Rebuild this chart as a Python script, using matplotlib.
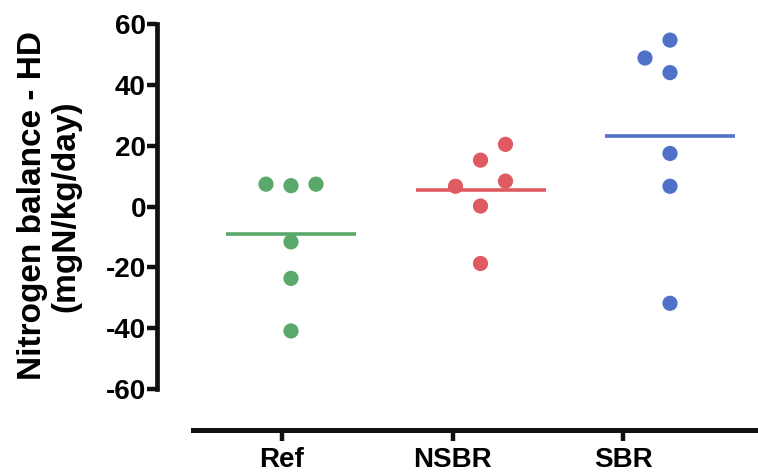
import matplotlib
matplotlib.use("Agg")
import matplotlib.pyplot as plt
import numpy as np

plt.rcParams['font.family'] = ['Liberation Sans', 'DejaVu Sans']
plt.rcParams['font.weight'] = 'bold'

# Nitrogen balance per group (mgN/kg/day)
groups = ["Ref", "NSBR", "SBR"]
ref_vals = [7.4, 6.9, 7.4, -11.6, -23.6, -40.9]
nsbr_vals = [20.5, 15.3, 8.4, 6.7, 0.2, -18.7]
sbr_vals = [54.8, 48.9, 44.1, 17.5, 6.7, -31.8]
yticks = [-60, -40, -20, 0, 20, 40, 60]

# horizontal slot of each dot within its column (scatter layout)
ref_slots = [-1, 0, 1, 0, 0, 0]
nsbr_slots = [1, 0, 1, -1, 0, 0]
sbr_slots = [0, -1, 0, 0, 0, 0]

colors = ["#5aa96a", "#e05a62", "#4f72c8"]

W, H = 758, 474
fig = plt.figure(figsize=(W / 100, H / 100), dpi=100)

# data axes: x spans 157..758 px, y spans 24..389 px
ax = fig.add_axes([157 / W, (H - 389) / H, (W - 157) / W, (389 - 24.3) / H])
ax.set_ylim(-60, 60)
col_px = 189.5
ax.set_xlim(-(291 - 157) / col_px, (W - 291) / col_px)

slot_step = 25 / col_px
half_len = 65 / col_px
for i, (vals, slots, c) in enumerate(zip([ref_vals, nsbr_vals, sbr_vals],
                                         [ref_slots, nsbr_slots, sbr_slots],
                                         colors)):
    xs = i + np.array(slots) * slot_step
    ax.scatter(xs, vals, s=120, color=c, edgecolors='none', zorder=3)
    m = np.mean(vals)
    ax.plot([i - half_len, i + half_len], [m, m], color=c, lw=2.6,
            solid_capstyle='butt', zorder=2)

for s in ["top", "right", "bottom"]:
    ax.spines[s].set_visible(False)
ax.spines["left"].set_linewidth(3.4)
ax.spines["left"].set_color("#111111")
ax.set_xticks([])
ax.set_yticks(yticks)
ax.set_yticklabels([str(v) for v in yticks], fontsize=20, fontweight='bold')
ax.tick_params(axis='y', length=7, width=3.2, color="#111111", pad=1)

# y-axis title, two lines, centred on the axis height
fig.text(49 / W, (H - 206) / H, "Nitrogen balance - HD\n(mgN/kg/day)",
         rotation=90, ha='center', va='center', fontsize=24,
         fontweight='bold', linespacing=1.12, multialignment='center')

# category axis below
cat_px = 170.5
bx = fig.add_axes([193 / W, (H - 430) / H, (W - 193) / W, 0.001])
bx.set_xlim(-(282 - 193) / cat_px, (W - 282) / cat_px)
bx.set_ylim(0, 1)
for s in ["top", "right", "left"]:
    bx.spines[s].set_visible(False)
bx.spines["bottom"].set_linewidth(3.6)
bx.spines["bottom"].set_color("#111111")
bx.set_yticks([])
bx.set_xticks(range(len(groups)))
bx.set_xticklabels(groups, fontsize=20, fontweight='bold')
bx.tick_params(axis='x', length=8, width=3.2, color="#111111", pad=4)
bx.patch.set_visible(False)

fig.savefig("out.png", dpi=100)
